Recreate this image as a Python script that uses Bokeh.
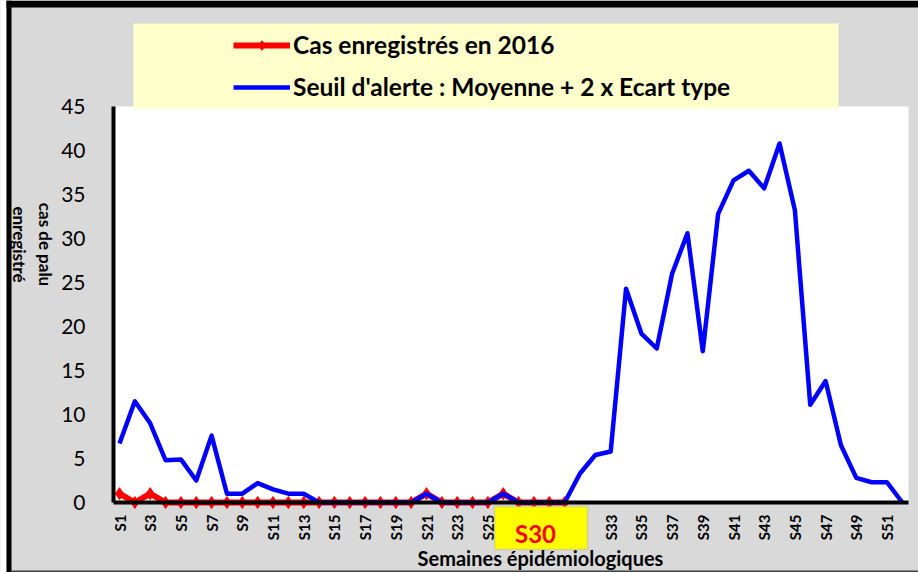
import math
from bokeh.plotting import figure
from bokeh.models import (Range1d, FixedTicker, Legend, LegendItem,
                          BoxAnnotation, Label, ColumnDataSource, LinearAxis)
from bokeh.embed import file_html
from bokeh.resources import INLINE

# ---- data ----
weeks = list(range(1, 53))
week_labels = [f"S{w}" for w in weeks]
seuil_alerte = [6.7, 11.5, 9.0, 4.8, 4.9, 2.5, 7.6, 1.0, 1.0, 2.2, 1.5, 1.0, 1.0,
                0, 0, 0, 0, 0, 0, 0, 1.0, 0, 0, 0, 0, 1.0, 0, 0, 0, 0,
                3.3, 5.4, 5.8, 24.3, 19.2, 17.5, 26.0, 30.6, 17.2, 32.8, 36.6,
                37.7, 35.7, 40.8, 33.2, 11.1, 13.8, 6.5, 2.8, 2.3, 2.3, 0]
cas_2016 = [1, 0, 1, 0, 0, 0, 0, 0, 0, 0, 0, 0, 0, 0, 0, 0, 0, 0, 0, 0,
            1, 0, 0, 0, 0, 1, 0, 0, 0, 0]
weeks_2016 = weeks[:len(cas_2016)]
y_ticks = [0, 5, 10, 15, 20, 25, 30, 35, 40, 45]
y_max = 45
label_cas = "Cas enregistrés en 2016"
label_seuil = "Seuil d'alerte : Moyenne + 2 x Ecart type"
y_title = "cas de palu\nenregistré"
x_title = "Semaines épidémiologiques"
current_week = "S30"

FONT = "Lato"
W, H = 918, 572

# ---- layout helpers: pixel position -> data position ----
# week 1 sits at px 119, one week = 15.35 px; value 0 at py 502, 8.8 px per unit
def dx(px):
    return 1 + (px - 119) / 15.35

def dy(py):
    return (502 - py) / 8.8

X_START, X_END = dx(0), dx(W)
Y_START, Y_END = dy(H), dy(0)
PLOT_LEFT, PLOT_RIGHT = dx(113), dx(908)

p = figure(width=W, height=H, output_backend="svg", toolbar_location=None,
           x_range=Range1d(X_START, X_END), y_range=Range1d(Y_START, Y_END),
           x_axis_type=None, y_axis_type=None)
p.min_border = 0
p.min_border_left = 0
p.min_border_right = 0
p.min_border_top = 0
p.min_border_bottom = 0
p.background_fill_color = "#d9d9d9"
p.border_fill_color = "#d9d9d9"
p.outline_line_color = None
p.grid.visible = False

# frame decorations: white margin, black left and top bands, dark bottom line
p.quad(left=[dx(0)], right=[dx(6)], bottom=[dy(H)], top=[dy(0)],
       fill_color="white", line_color=None)
p.quad(left=[dx(6)], right=[dx(11)], bottom=[dy(H)], top=[dy(0)],
       fill_color="black", line_color=None)
p.quad(left=[dx(6)], right=[dx(W)], bottom=[dy(7)], top=[dy(0)],
       fill_color="black", line_color=None)
p.quad(left=[dx(11)], right=[dx(W)], bottom=[dy(H)], top=[dy(570)],
       fill_color="#404040", line_color=None)

# white plotting area
p.quad(left=[PLOT_LEFT], right=[PLOT_RIGHT], bottom=[0], top=[y_max],
       fill_color="white", line_color=None)

# series
src_cas = ColumnDataSource(dict(x=weeks_2016, y=cas_2016))
src_seuil = ColumnDataSource(dict(x=weeks, y=seuil_alerte))
r_cas_line = p.line("x", "y", source=src_cas, line_color="#ff0000", line_width=6)
r_cas_pts = p.scatter("x", "y", source=src_cas, marker="diamond", size=12,
                      fill_color="#ff0000", line_color="#ff0000")
r_seuil = p.line("x", "y", source=src_seuil, line_color="#0000ff", line_width=4.5,
                 line_join="round")

# axes (fixed at the data origin, so that they live inside the frame)
yaxis = LinearAxis(fixed_location=PLOT_LEFT, bounds=(0, y_max),
                   ticker=FixedTicker(ticks=y_ticks))
yaxis.axis_line_width = 4
yaxis.axis_line_color = "black"
yaxis.major_tick_line_color = None
yaxis.minor_tick_line_color = None
yaxis.major_label_standoff = 22
yaxis.major_label_text_font = FONT
yaxis.major_label_text_font_size = "21px"
yaxis.major_label_text_color = "black"
p.add_layout(yaxis, "left")

odd_weeks = weeks[::2]
xaxis = LinearAxis(fixed_location=0, bounds=(PLOT_LEFT, PLOT_RIGHT),
                   ticker=FixedTicker(ticks=odd_weeks))
xaxis.major_label_overrides = {w: week_labels[w - 1] for w in odd_weeks}
xaxis.major_label_orientation = math.pi / 2
xaxis.axis_line_width = 4
xaxis.axis_line_color = "black"
xaxis.major_tick_line_color = None
xaxis.minor_tick_line_color = None
xaxis.major_label_standoff = 6
xaxis.major_label_text_font = FONT
xaxis.major_label_text_font_style = "bold"
xaxis.major_label_text_font_size = "15px"
xaxis.major_label_text_color = "black"
p.add_layout(xaxis, "below")

# legend box (yellow background)
legend_bg = BoxAnnotation(left=dx(133), right=dx(838), bottom=dy(108), top=dy(23),
                          fill_color="#ffffcc", fill_alpha=1.0, line_color=None)
p.add_layout(legend_bg)

legend = Legend(items=[LegendItem(label=label_cas, renderers=[r_cas_line, r_cas_pts]),
                       LegendItem(label=label_seuil, renderers=[r_seuil])],
                location=(233, 471), orientation="vertical",
                padding=0, margin=0, spacing=13,
                glyph_width=57, glyph_height=24, label_height=24,
                label_standoff=3,
                background_fill_alpha=0, border_line_color=None,
                label_text_font=FONT, label_text_font_style="bold",
                label_text_font_size="24.5px", label_text_color="black")
p.add_layout(legend)

# y axis title
p.add_layout(Label(x=dx(32), y=dy(244), text=y_title, angle=-math.pi / 2,
                   text_align="center", text_baseline="middle",
                   text_font=FONT, text_font_style="bold", text_font_size="17px",
                   text_color="black"))

# current week highlight
week_box = BoxAnnotation(left=dx(494), right=dx(587), top=dy(506), bottom=dy(549),
                         fill_color="#ffff00", fill_alpha=1.0,
                         line_color="#a6a6a6", line_width=2)
p.add_layout(week_box)
p.add_layout(Label(x=dx(535), y=dy(533), text=current_week,
                   text_align="center", text_baseline="middle",
                   text_font=FONT, text_font_style="bold", text_font_size="24px",
                   text_color="#ff0000"))

# x axis title
p.add_layout(Label(x=dx(540), y=dy(557), text=x_title,
                   text_align="center", text_baseline="middle",
                   text_font=FONT, text_font_style="bold", text_font_size="20px",
                   text_color="black"))

open("out.html", "w").write(file_html(p, INLINE))
